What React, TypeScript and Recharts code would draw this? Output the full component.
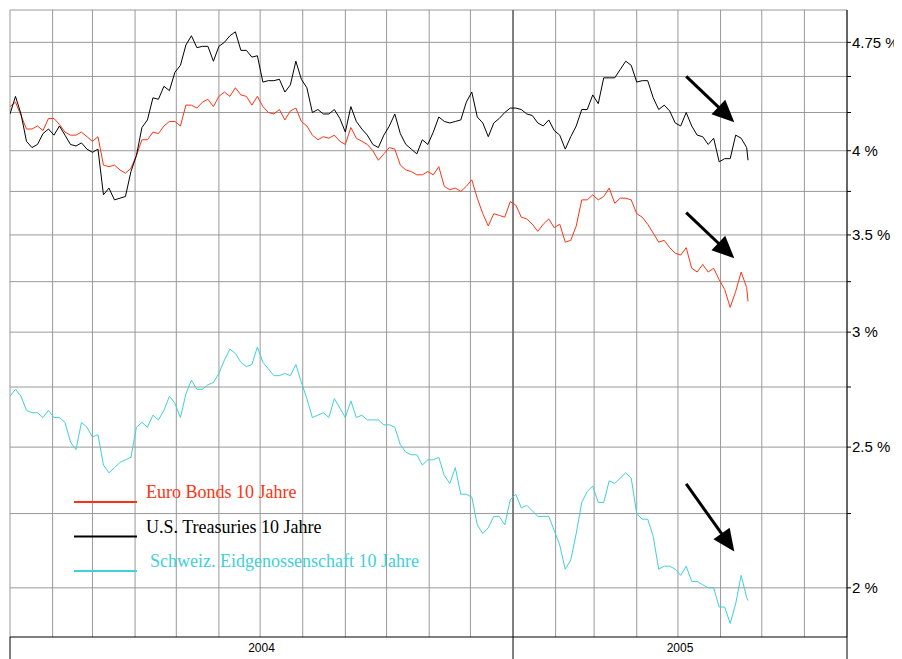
import { CartesianGrid, Legend, Line, LineChart, ReferenceLine, XAxis, YAxis } from 'recharts';

// days since 2004-01-01
const DAYS = [
  0, 4, 8, 12, 16, 20, 24, 28, 32, 36, 40, 44, 48, 52, 56, 60, 64, 68, 72, 76, 80, 84, 88, 92, 96, 100, 104, 108, 112, 116, 120, 124, 128, 132, 136,
  140, 144, 148, 152, 156, 160, 164, 168, 172, 176, 180, 184, 188, 192, 196, 200, 204, 208, 212, 216, 220, 224, 228, 232, 236, 240, 244, 248, 252, 256, 260, 264, 268, 272,
  276, 280, 284, 288, 292, 296, 300, 304, 308, 312, 316, 320, 324, 328, 332, 336, 340, 344, 348, 352, 356, 360, 364, 368, 372, 376, 380, 384, 388, 392, 396, 400, 404, 408, 412,
  416, 420, 424, 428, 432, 436, 440, 444, 448, 452, 456, 460, 464, 468, 472, 476, 480, 484, 488, 492, 496, 500, 504, 508, 512, 516, 520, 524, 528, 532, 536, 537,
];

const EURO = [
  4.29, 4.32, 4.23, 4.14, 4.14, 4.16, 4.13, 4.21, 4.21, 4.17, 4.12, 4.1, 4.1, 4.12, 4.09, 4.06, 4.09, 3.91, 3.9, 3.91, 3.88, 3.86, 3.89, 3.97, 4.07, 4.07, 4.12, 4.11, 4.16, 4.19, 4.19, 4.16, 4.3, 4.3, 4.28,
  4.32, 4.34, 4.29, 4.36, 4.39, 4.36, 4.42, 4.37, 4.36, 4.3, 4.36, 4.29, 4.25, 4.24, 4.27, 4.2, 4.26, 4.28, 4.19, 4.16, 4.1, 4.07, 4.09, 4.08, 4.1, 4.06, 4.04, 4.15, 4.08, 4.06, 4.04, 4.0, 3.94, 3.98,
  4.02, 4.01, 3.91, 3.88, 3.87, 3.85, 3.85, 3.87, 3.85, 3.9, 3.78, 3.76, 3.77, 3.75, 3.78, 3.82, 3.71, 3.62, 3.55, 3.62, 3.61, 3.6, 3.69, 3.67, 3.6, 3.59, 3.56, 3.52, 3.56, 3.59, 3.54, 3.56, 3.46, 3.47, 3.55,
  3.7, 3.7, 3.73, 3.7, 3.72, 3.77, 3.68, 3.71, 3.71, 3.7, 3.62, 3.6, 3.56, 3.51, 3.46, 3.47, 3.43, 3.4, 3.39, 3.43, 3.32, 3.3, 3.34, 3.3, 3.32, 3.26, 3.21, 3.12, 3.2, 3.3, 3.22, 3.15,
];

const US = [
  4.24, 4.36, 4.24, 4.06, 4.02, 4.04, 4.11, 4.14, 4.1, 4.16, 4.1, 4.04, 4.03, 4.05, 4.01, 3.99, 4.01, 3.73, 3.77, 3.7, 3.71, 3.72, 3.87, 3.97, 4.15, 4.2, 4.35, 4.34, 4.43, 4.4, 4.53, 4.58, 4.73, 4.8, 4.71,
  4.72, 4.72, 4.61, 4.72, 4.75, 4.8, 4.83, 4.69, 4.69, 4.64, 4.65, 4.46, 4.47, 4.47, 4.48, 4.39, 4.44, 4.61, 4.48, 4.42, 4.25, 4.27, 4.24, 4.24, 4.27, 4.21, 4.12, 4.29, 4.19, 4.14, 4.1, 4.04, 4.02, 4.1,
  4.16, 4.24, 4.11, 4.04, 4.01, 3.98, 4.07, 4.04, 4.12, 4.22, 4.19, 4.18, 4.19, 4.2, 4.32, 4.39, 4.22, 4.18, 4.09, 4.18, 4.21, 4.25, 4.28, 4.28, 4.27, 4.24, 4.23, 4.18, 4.16, 4.2, 4.13, 4.1, 4.01, 4.09, 4.16,
  4.27, 4.27, 4.37, 4.31, 4.49, 4.49, 4.49, 4.55, 4.61, 4.58, 4.46, 4.47, 4.47, 4.35, 4.27, 4.3, 4.26, 4.18, 4.16, 4.25, 4.16, 4.1, 4.09, 4.04, 4.08, 3.93, 3.95, 3.95, 4.1, 4.08, 4.02, 3.94,
];

const CH = [
  2.71, 2.74, 2.71, 2.65, 2.64, 2.64, 2.62, 2.65, 2.62, 2.62, 2.6, 2.52, 2.49, 2.6, 2.58, 2.54, 2.55, 2.43, 2.4, 2.42, 2.44, 2.45, 2.46, 2.58, 2.6, 2.58, 2.63, 2.61, 2.65, 2.71, 2.68, 2.62, 2.72, 2.78, 2.74,
  2.74, 2.76, 2.77, 2.81, 2.87, 2.92, 2.9, 2.86, 2.84, 2.85, 2.93, 2.86, 2.83, 2.8, 2.8, 2.81, 2.8, 2.85, 2.77, 2.7, 2.62, 2.63, 2.64, 2.62, 2.7, 2.66, 2.62, 2.69, 2.62, 2.63, 2.61, 2.61, 2.61, 2.59,
  2.59, 2.58, 2.51, 2.48, 2.47, 2.47, 2.43, 2.45, 2.45, 2.46, 2.39, 2.36, 2.42, 2.32, 2.32, 2.31, 2.21, 2.18, 2.2, 2.24, 2.24, 2.21, 2.3, 2.32, 2.27, 2.28, 2.26, 2.24, 2.24, 2.24, 2.19, 2.14, 2.06, 2.09, 2.18,
  2.29, 2.33, 2.35, 2.29, 2.29, 2.37, 2.36, 2.38, 2.4, 2.38, 2.25, 2.23, 2.23, 2.17, 2.06, 2.07, 2.07, 2.06, 2.04, 2.07, 2.02, 2.02, 2.01, 2.0, 2.0, 1.94, 1.94, 1.89, 1.95, 2.04, 1.97, 1.96,
];

// month starts Jan 2004 .. Sep 2005
const MONTH_STARTS = [0, 31, 60, 91, 121, 152, 182, 213, 244, 274, 305, 335, 366, 397, 425, 456, 486, 517, 547, 578, 609];
const YEAR_BOUNDS = [0, 366, 609];
const YEAR_MIDS = [183, 487.5];
const YEARS = ['2004', '2005'];

const Y_TICKS = [2, 2.25, 2.5, 2.75, 3, 3.25, 3.5, 3.75, 4, 4.25, 4.5, 4.75];
const Y_LABELED = [2, 2.5, 3, 3.5, 4, 4.75];
const Y_GRID = [...Y_TICKS, 5];

const ARROWS = [
  { from: { x: 492, y: 4.5 }, to: { x: 527, y: 4.185 } },
  { from: { x: 492, y: 3.626 }, to: { x: 527, y: 3.373 } },
  { from: { x: 492, y: 2.358 }, to: { x: 527, y: 2.119 } },
];

const SERIES = [
  { key: 'euro', name: 'Euro Bonds 10 Jahre', color: '#ff3311' },
  { key: 'us', name: 'U.S. Treasuries 10 Jahre', color: '#000000' },
  { key: 'ch', name: 'Schweiz. Eidgenossenschaft 10 Jahre', color: '#40d0d8' },
];

const data = DAYS.map((day, i) => ({ day, euro: EURO[i], us: US[i], ch: CH[i] }));

const SANS = '"Liberation Sans", Arial, sans-serif';
const SERIF = '"Liberation Serif", "Times New Roman", serif';

function YearTick({ x, y, payload }: any) {
  const idx = YEAR_MIDS.indexOf(payload.value);
  if (idx >= 0) {
    return (
      <text x={x} y={y + 15} textAnchor="middle" fontSize={12} fontFamily={SANS} fill="#000">
        {YEARS[idx]}
      </text>
    );
  }
  return <line x1={x} y1={y} x2={x} y2={y + 22} stroke="#000" strokeWidth={1} />;
}

function Arrow(props: any) {
  const { x1, y1, x2, y2 } = props;
  const dx = x2 - x1;
  const dy = y2 - y1;
  const len = Math.hypot(dx, dy) || 1;
  const ux = dx / len;
  const uy = dy / len;
  const head = 22;
  const half = 10;
  const bx = x2 - ux * head;
  const by = y2 - uy * head;
  const pts = `${x2},${y2} ${bx - uy * half},${by + ux * half} ${bx + uy * half},${by - ux * half}`;
  return (
    <g>
      <line x1={x1} y1={y1} x2={bx + ux * 2} y2={by + uy * 2} stroke="#000" strokeWidth={3} />
      <polygon points={pts} fill="#000" />
    </g>
  );
}

function LegendBox() {
  return (
    <svg width={370} height={100} style={{ display: 'block' }}>
      {SERIES.map((s, i) => {
        const ly = 22 + i * 34.5;
        return (
          <g key={s.key}>
            <line x1={4} x2={67} y1={ly} y2={ly} stroke={s.color} strokeWidth={2} />
            <text x={i === 2 ? 80 : 76} y={ly - 4} fontSize={18} fontFamily={SERIF} fill={s.color}>
              {s.name}
            </text>
          </g>
        );
      })}
    </svg>
  );
}

export default function App() {
  return (
    <div style={{ width: 894, height: 651, background: '#fff' }}>
      <LineChart width={894} height={651} data={data} margin={{ top: 2, right: 0, bottom: 0, left: 2 }}>
        <CartesianGrid
          stroke="#999"
          strokeWidth={1}
          verticalValues={MONTH_STARTS}
          horizontalValues={Y_GRID}
        />
        <XAxis
          dataKey="day"
          type="number"
          domain={[0, 609]}
          ticks={[0, 183, 366, 487.5, 609]}
          interval={0}
          height={22}
          tickSize={0}
          tickMargin={0}
          tickLine={false}
          axisLine={{ stroke: '#000' }}
          tick={<YearTick />}
          allowDataOverflow
        />
        <YAxis
          orientation="right"
          scale="log"
          domain={[1.85, 5]}
          allowDataOverflow
          ticks={Y_TICKS}
          interval={0}
          width={55}
          tickSize={4}
          tickMargin={1}
          axisLine={{ stroke: '#000' }}
          tickLine={{ stroke: '#000' }}
          tick={{ fontSize: 15, fontFamily: SANS, fill: '#000' }}
          tickFormatter={(v: number) => (Y_LABELED.includes(v) ? `${v} %` : '')}
        />
        <ReferenceLine x={366} stroke="#666" strokeWidth={1.5} />
        <Legend
          layout="vertical"
          align="center"
          verticalAlign="middle"
          content={<LegendBox />}
          wrapperStyle={{ left: 62, top: 472, width: 370, height: 100 }}
        />
        <Line type="linear" dataKey="ch" name={SERIES[2].name} stroke={SERIES[2].color} strokeWidth={1} dot={false} isAnimationActive={false} />
        <Line type="linear" dataKey="euro" name={SERIES[0].name} stroke={SERIES[0].color} strokeWidth={1} dot={false} isAnimationActive={false} />
        <Line type="linear" dataKey="us" name={SERIES[1].name} stroke={SERIES[1].color} strokeWidth={1} dot={false} isAnimationActive={false} />
        {ARROWS.map((a, i) => (
          <ReferenceLine key={i} segment={[a.from, a.to]} shape={<Arrow />} />
        ))}
      </LineChart>
    </div>
  );
}
